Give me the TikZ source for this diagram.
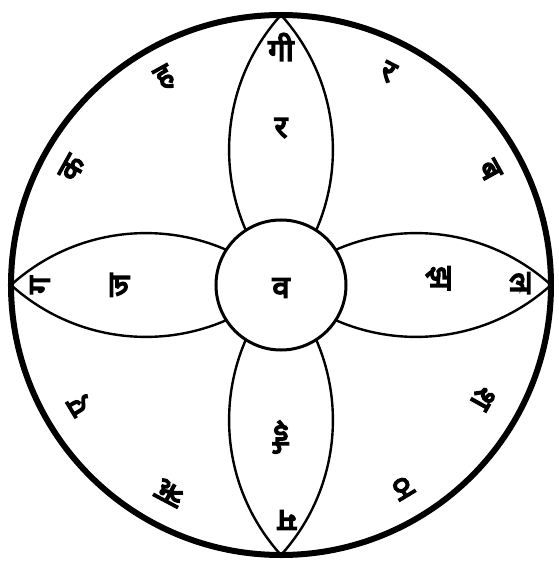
\documentclass[tikz,border=0pt]{standalone}
\usepackage{fontspec}
\newfontfamily\deva[Script=Devanagari,FakeBold=5]{Noto Sans}
\begin{document}
\begin{tikzpicture}[x=1pt,y=1pt,
  rim/.style={line width=6pt},
  petalline/.style={line width=2.4pt},
  hub/.style={line width=3pt,fill=white},
  glyph/.style={font=\deva\fontsize{31}{31}\selectfont,inner sep=0pt}]
\useasboundingbox[fill=white] (-281,-280) rectangle (278,285);
% petals
\foreach \a in {0,90,180,270}{
  \begin{scope}[rotate=\a]
    \draw[petalline] (0,270) arc[start angle=137.9,end angle=222.1,radius=201.2];
    \draw[petalline] (0,270) arc[start angle=42.1,end angle=-42.1,radius=201.2];
  \end{scope}}
\node[circle,draw,rim,minimum size=540pt,inner sep=0pt] (outer) at (0,0) {};
\node[circle,draw,hub,minimum size=130pt,inner sep=0pt] (inner) at (0,0) {};
% centre
\node[glyph] (c) at (0,-3) {व};
% top petal
\node[glyph] (t1) at (0,238) {गी};
\node[glyph] (t2) at (0,157) {र};
% right petal
\node[glyph,rotate=-90] (r1) at (157,7) {झ};
\node[glyph,rotate=-90] (r2) at (239,2) {ल};
% left petal
\node[glyph,rotate=90] (l1) at (-241,0) {ग};
\node[glyph,rotate=90] (l2) at (-161,0) {ज};
% bottom petal
\node[glyph,rotate=180] (b1) at (0,-152) {ई};
\node[glyph,rotate=180] (b2) at (6,-235) {म};
% ring
\node[glyph,rotate=-27] (g1) at (107,213) {र};
\node[glyph,rotate=-61] (g2) at (209,115) {ब};
\node[glyph,rotate=-119] (g3) at (202,-113) {श};
\node[glyph,rotate=-149] (g4) at (122,-203) {ठ};
\node[glyph,rotate=152] (g5) at (-111,-208) {ऋ};
\node[glyph,rotate=121] (g6) at (-201,-120) {ए};
\node[glyph,rotate=61] (g7) at (-209,117) {क};
\node[glyph,rotate=29] (g8) at (-116,207) {ह};
\end{tikzpicture}
\end{document}
